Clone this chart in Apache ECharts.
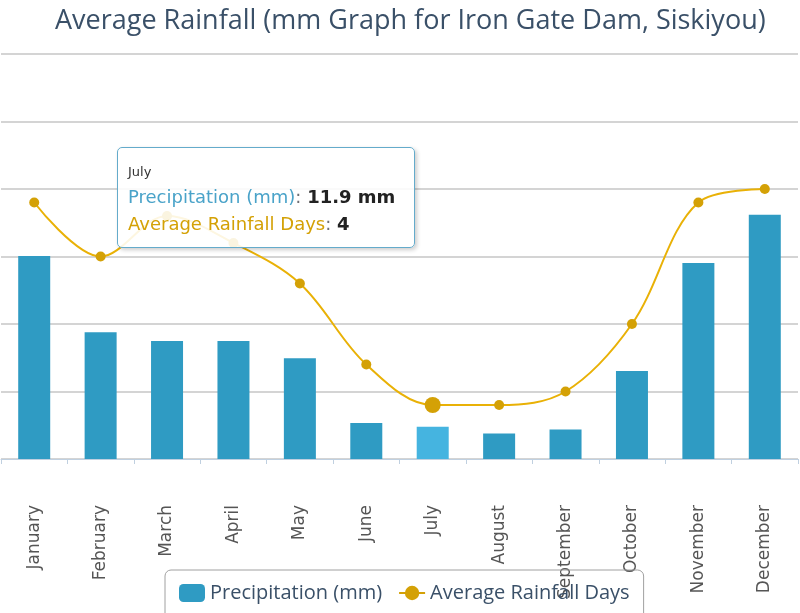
<!DOCTYPE html>
<html>
<head>
<meta charset="utf-8">
<script src="https://cdn.jsdelivr.net/npm/echarts@6/dist/echarts.min.js"></script>
<style>
  html, body { margin: 0; padding: 0; background: #ffffff; }
  #chart { width: 800px; height: 613px; }
</style>
</head>
<body>
<div id="chart"></div>
<script>
// Monthly climate figures for Iron Gate Dam, Siskiyou
const months = ['January', 'February', 'March', 'April', 'May', 'June',
                'July', 'August', 'September', 'October', 'November', 'December'];
const precipitationMm = [75.2, 46.9, 43.7, 43.7, 37.3, 13.3, 11.9, 9.4, 10.9, 32.6, 72.6, 90.5];
const rainfallDays = [19, 15, 18, 16, 13, 7, 4, 4, 5, 10, 19, 20];
const focusMonth = 6; // July, shown in the tooltip

const chart = echarts.init(document.getElementById('chart'), null, { renderer: 'canvas' });

const barColor = '#2f9bc3';
const lineColor = '#d4a106';
const titleColor = '#3a5068';

chart.setOption({
  animation: false,
  title: {
    text: 'Average Rainfall (mm Graph for Iron Gate Dam, Siskiyou)',
    left: 50,
    top: 3,
    textStyle: { color: titleColor, fontSize: 27, fontWeight: 'normal', fontFamily: 'Open Sans' }
  },
  tooltip: {
    trigger: 'axis',
    alwaysShowContent: true,
    transitionDuration: 0,
    axisPointer: { type: 'none' },
    position: [117, 147],
    backgroundColor: 'rgba(255,255,255,0.88)',
    borderColor: '#64abcb',
    borderWidth: 1.5,
    padding: [15, 10, 10, 10],
    extraCssText: 'border-radius:5px;box-shadow:2px 2px 4px rgba(0,0,0,0.2);width:276px;',
    formatter: function (params) {
      const idx = params[0].dataIndex;
      return '<div style="font-family:DejaVu Sans;line-height:27px;white-space:nowrap;">' +
        '<div style="font-size:13px;color:#333;line-height:18px;padding-bottom:2px">' + months[idx] + '</div>' +
        '<div style="font-size:18px;"><span style="color:#4aa3c9">Precipitation (mm)</span>: ' +
        '<b style="color:#222">' + precipitationMm[idx] + ' mm</b></div>' +
        '<div style="font-size:18px;"><span style="color:' + lineColor + '">Average Rainfall Days</span>: ' +
        '<b style="color:#222">' + rainfallDays[idx] + '</b></div>' +
        '</div>';
    }
  },
  legend: {
    bottom: -12,
    left: 165,
    padding: [13, 14, 22, 14],
    borderColor: '#a0a0a0',
    borderWidth: 1,
    borderRadius: 6,
    itemGap: 16,
    itemWidth: 26,
    itemHeight: 18,
    textStyle: { color: titleColor, fontSize: 20, fontFamily: 'Open Sans' },
    data: [
      { name: 'Precipitation (mm)', icon: 'roundRect' },
      { name: 'Average Rainfall Days' }
    ]
  },
  grid: { left: 1, right: 2, top: 54, bottom: 154, containLabel: false },
  xAxis: {
    type: 'category',
    data: months,
    axisLine: { lineStyle: { color: '#c0d0e0', width: 1 } },
    axisTick: { show: true, length: 5, lineStyle: { color: '#c0d0e0' } },
    axisLabel: {
      rotate: 90,
      margin: 46,
      color: '#555',
      fontSize: 17,
      fontFamily: 'DejaVu Sans',
      interval: 0
    }
  },
  yAxis: [
    {
      type: 'value', min: 0, max: 150, interval: 25,
      axisLabel: { show: false }, axisLine: { show: false }, axisTick: { show: false },
      splitLine: { lineStyle: { color: '#d4d4d4', width: 2 } }
    },
    {
      type: 'value', min: 0, max: 30, interval: 5,
      axisLabel: { show: false }, axisLine: { show: false }, axisTick: { show: false },
      splitLine: { show: false }
    }
  ],
  series: [
    {
      name: 'Precipitation (mm)',
      type: 'bar',
      yAxisIndex: 0,
      barWidth: 32,
      data: precipitationMm,
      itemStyle: { color: barColor },
      emphasis: { focus: 'none', itemStyle: { color: '#45b4e0' } }
    },
    {
      name: 'Average Rainfall Days',
      type: 'line',
      yAxisIndex: 1,
      smooth: 0.35,
      data: rainfallDays,
      symbol: 'circle',
      symbolSize: 10,
      lineStyle: { color: lineColor, width: 2 },
      itemStyle: { color: lineColor },
      emphasis: { focus: 'none', scale: 1.6, itemStyle: { color: lineColor, borderWidth: 0 } }
    }
  ]
});

chart.dispatchAction({ type: 'highlight', seriesIndex: [0, 1], dataIndex: focusMonth });
chart.dispatchAction({ type: 'showTip', seriesIndex: 0, dataIndex: focusMonth });
</script>
</body>
</html>
